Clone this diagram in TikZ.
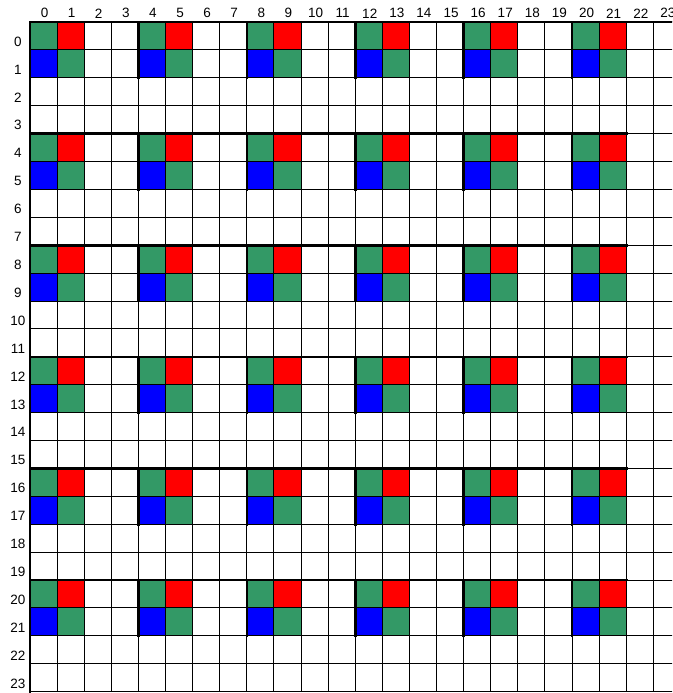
\documentclass[tikz,border=0pt]{standalone}
\usepackage{fontspec}
\setmainfont{Liberation Sans}
\definecolor{pixgreen}{RGB}{51,153,102}
\definecolor{pixred}{RGB}{255,0,0}
\definecolor{pixblue}{RGB}{0,0,255}
\tikzset{
  thinline/.style={line width=1pt, draw=black},
  thickline/.style={line width=2.6pt, draw=black, line cap=rect},
  lab/.style={font=\fontsize{13.5}{15}\selectfont, inner sep=0pt}
}
\begin{document}
\begin{tikzpicture}[x=1pt,y=-1pt]
\def\W{27.1}
\def\H{27.9}
\def\X{30}
\def\Y{22}
\useasboundingbox (0,0) rectangle (672,693);
\fill[white] (0,0) rectangle (672,693);
\begin{scope}
\clip (0,0) rectangle (672,693);
% coloured cells
\foreach \bi in {0,...,5}{
  \foreach \bj in {0,...,5}{
    \pgfmathsetmacro{\cx}{\X+4*\bj*\W}
    \pgfmathsetmacro{\cy}{\Y+4*\bi*\H}
    \fill[pixgreen] (\cx,\cy) rectangle ++(\W,\H);
    \fill[pixred] ({\cx+\W},\cy) rectangle ++(\W,\H);
    \fill[pixblue] (\cx,{\cy+\H}) rectangle ++(\W,\H);
    \fill[pixgreen] ({\cx+\W},{\cy+\H}) rectangle ++(\W,\H);
  }
}
% thin grid
\foreach \i in {0,...,24}{
  \draw[thinline] ({\X+\i*\W},\Y) -- ({\X+\i*\W},{\Y+24*\H});
  \draw[thinline] (\X,{\Y+\i*\H}) -- ({\X+24*\W},{\Y+\i*\H});
}
% thick borders
\draw[thickline] (\X,{\Y+24*\H}) -- (\X,\Y) -- ({\X+24*\W},\Y);
\foreach \bi in {1,...,5}{
  \draw[thickline] (\X,{\Y+4*\bi*\H}) -- ({\X+22*\W},{\Y+4*\bi*\H});
}
\foreach \bi in {0,...,5}{
  \foreach \bj in {1,...,5}{
    \draw[thickline] ({\X+4*\bj*\W},{\Y+4*\bi*\H}) -- ({\X+4*\bj*\W},{\Y+(4*\bi+2)*\H});
  }
}
% labels
\foreach \i in {0,...,23}{
  \node[lab] (c\i) at ({\X+(\i+0.5)*\W+1},13.3) {\i};
  \node[lab] (r\i) at (18,{\Y+(\i+0.5)*\H+5.7}) {\i};
}
\end{scope}
\end{tikzpicture}
\end{document}
